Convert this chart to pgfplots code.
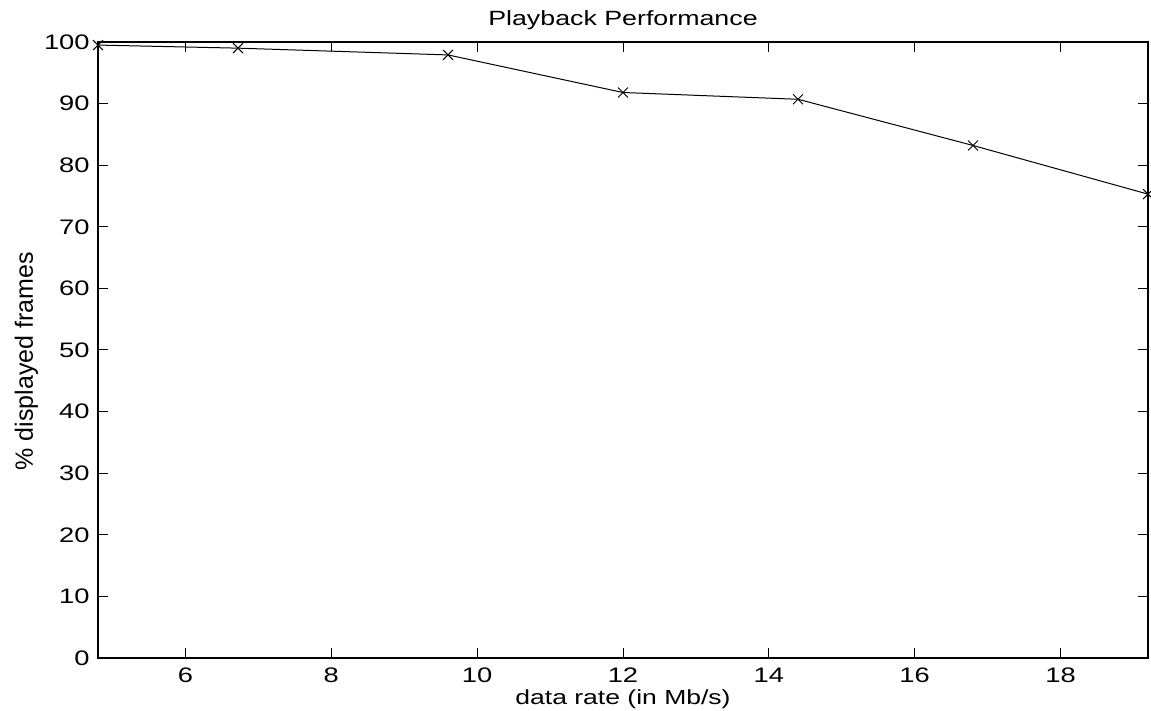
\documentclass[border=0pt]{standalone}
\usepackage{fontspec}
\setmainfont[FakeStretch=1.3]{Liberation Sans}
\newfontfamily\plainsans{Liberation Sans}
\usepackage{pgfplots}
\pgfplotsset{compat=1.18}

\begin{document}
\begin{tikzpicture}[x=1pt,y=1pt]
\begin{axis}[
  scale only axis, width=525pt, height=308pt,
  xmin=4.8, xmax=19.2, ymin=0, ymax=100,
  xtick={6,8,...,18}, ytick={0,10,...,100},
  tick align=inside, major tick length=5pt,
  axis line style={line width=1pt},
  tick style={line width=0.5pt, black},
  every tick label/.append style={font=\fontsize{10.5}{12}\selectfont, inner sep=0pt},
  /pgf/number format/assume math mode=true,
  xticklabel style={anchor=base, yshift=-12.5pt},
  yticklabel style={anchor=east, xshift=-4pt},
  title={Playback Performance},
  title style={font=\fontsize{10.3}{12}\selectfont, inner sep=0pt, at={(0.5,1)}, anchor=base, yshift=2pt},
  xlabel={data rate (in Mb/s)},
  ylabel={\% displayed frames},
  label style={inner sep=0pt},
  xlabel style={font=\fontsize{10.2}{12}\selectfont, at={(0.5,0)}, anchor=base, yshift=-23.5pt},
  ylabel style={font=\plainsans\fontsize{12.5}{14}\selectfont, at={(0,0.482)}, anchor=base, yshift=32.5pt},
  clip=false,
]
\addplot[black, line width=0.5pt, mark=x, mark size=3.5pt] coordinates {
  (4.8,99.5) (6.72,99.0) (9.6,97.9) (12.0,91.8) (14.4,90.7) (16.8,83.2) (19.2,75.3)
};
\end{axis}
\pgfresetboundingbox
\path ([xshift=-49pt,yshift=-26.5pt]current axis.south west) rectangle ([xshift=1.5pt,yshift=21pt]current axis.north east);
\end{tikzpicture}
\end{document}
